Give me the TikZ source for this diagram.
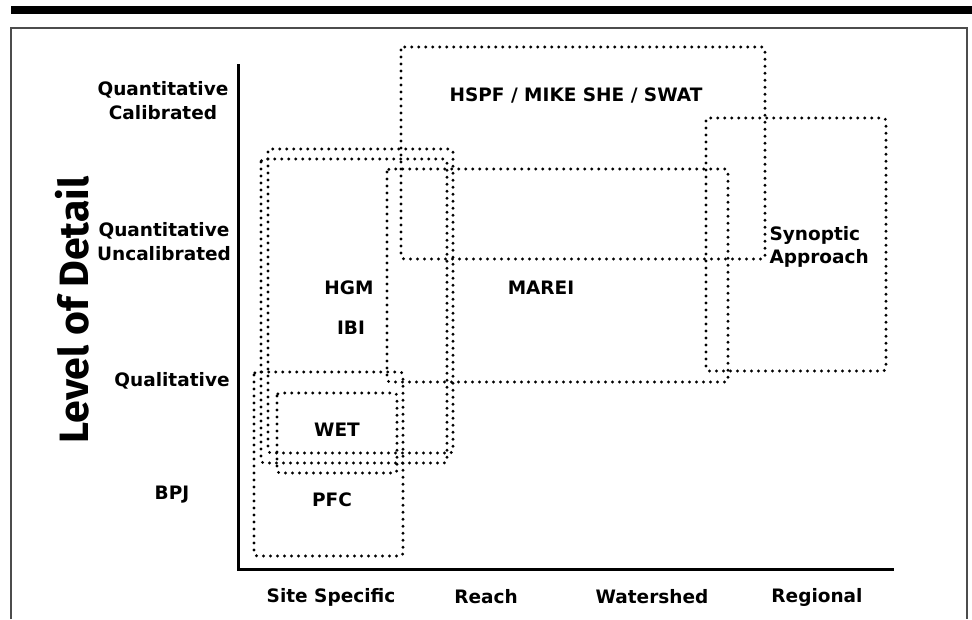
\documentclass[tikz,border=0pt]{standalone}
\usepackage{fontspec}
\setmainfont{DejaVu Sans}
\newfontfamily\titlefont{Fira Sans}
\usepackage{tikz}
\usetikzlibrary{positioning}
\tikzset{
  modelbox/.style={line width=3.2pt, dash pattern=on 0pt off 7pt, line cap=round, rounded corners=3pt},
  axisline/.style={line width=3pt},
  frameline/.style={line width=1.6pt, black!70},
  levellabel/.style={font=\fontsize{18.5}{24}\selectfont\bfseries, align=center},
  scalelabel/.style={font=\fontsize{18.5}{24}\selectfont\bfseries},
  modellabel/.style={font=\fontsize{18.5}{23}\selectfont\bfseries},
  titlelabel/.style={font=\titlefont\fontsize{41}{44}\selectfont\bfseries, rotate=90}
}

\begin{document}
\begin{tikzpicture}[x=1pt, y=-1pt]
  \useasboundingbox (0,0) rectangle (972,619);
  % page rule and frame
  \fill (11,6) rectangle (972,14);
  \draw[frameline] (11,619) |- (967,28) -- (967,619);

  % axes
  \coordinate (ytop) at (238,64);
  \coordinate (origin) at (238,569);
  \coordinate (xend) at (894,569);
  \draw[axisline] (ytop) -- (origin) -- (xend);

  % level of detail
  \node[titlelabel] (detail) at (72,310) {Level of Detail};
  \node[levellabel] (calib) at (163,101) {Quantitative\\Calibrated};
  \node[levellabel] (uncalib) at (164,242) {Quantitative\\Uncalibrated};
  \node[levellabel] (quali) at (172,381) {Qualitative};
  \node[levellabel] (bpj) at (172,495) {BPJ};

  % spatial scale
  \node[scalelabel] (site) at (331,597) {Site Specific};
  \node[scalelabel] (reach) at (486,597) {Reach};
  \node[scalelabel] (shed) at (652,597) {Watershed};
  \node[scalelabel] (region) at (817,597) {Regional};

  % model boxes
  \draw[modelbox] (401,47) rectangle (765,259);
  \draw[modelbox] (706,118) rectangle (886,371);
  \draw[modelbox] (387,169) rectangle (728,382);
  \draw[modelbox] (268,149) rectangle (453,453);
  \draw[modelbox] (261,159) rectangle (447,463);
  \draw[modelbox] (254,372) rectangle (403,556);
  \draw[modelbox] (277,393) rectangle (397,473);

  \node[modellabel] (hspf) at (576,95) {HSPF / MIKE SHE / SWAT};
  \node[modellabel, anchor=west, align=left] (synoptic) at (766,247) {Synoptic\\Approach};
  \node[modellabel] (marei) at (541,288) {MAREI};
  \node[modellabel] (hgm) at (349,288) {HGM};
  \node[modellabel] (ibi) at (351,328) {IBI};
  \node[modellabel] (wet) at (337,430) {WET};
  \node[modellabel] (pfc) at (332,500) {PFC};
\end{tikzpicture}
\end{document}
